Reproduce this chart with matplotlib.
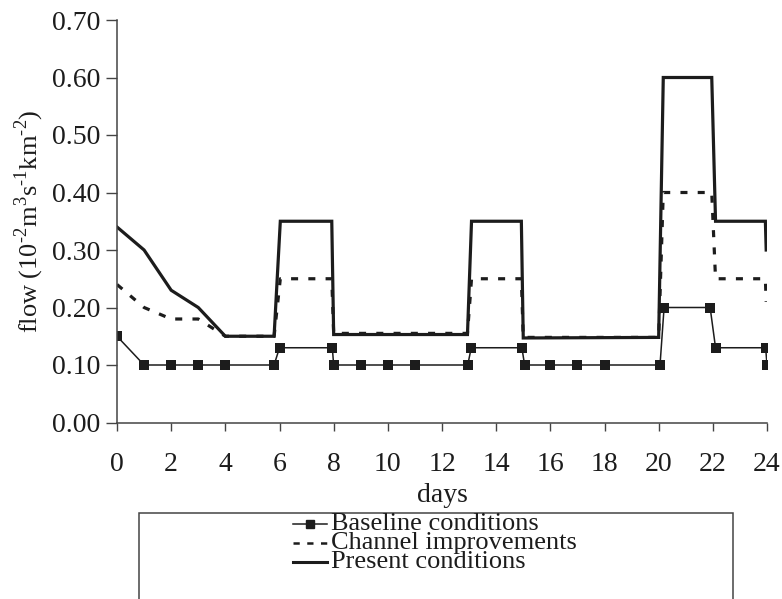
# Flow at the outlet under three scenarios (days 0-24)

import matplotlib
matplotlib.use("Agg")
import matplotlib.pyplot as plt
from matplotlib.lines import Line2D
from matplotlib.patches import Rectangle

plt.rcParams["font.family"] = ["Liberation Serif", "DejaVu Serif"]
plt.rcParams["mathtext.fontset"] = "custom"
plt.rcParams["mathtext.rm"] = "Liberation Serif"

# =============================================================================
# Data
# =============================================================================

baseline_days = [0, 1, 2, 3, 4, 5.8, 6, 7.95, 8, 9, 10, 11, 12.95, 13.08,
                 14.95, 15.05, 16, 17, 18, 20.05, 20.2, 21.9, 22.1, 23.95, 24]
baseline_flow = [0.15, 0.10, 0.10, 0.10, 0.10, 0.10, 0.13, 0.13, 0.10, 0.10,
                 0.10, 0.10, 0.10, 0.13, 0.13, 0.10, 0.10, 0.10, 0.10, 0.10,
                 0.20, 0.20, 0.13, 0.13, 0.10]

scenario_days = [0, 1, 2, 3, 4, 5.8, 6.03, 7.93, 8, 12.94, 13.09, 14.93, 15.0,
                 20.0, 20.17, 21.96, 22.1, 23.94, 23.97]
channel_flow = [0.24, 0.20, 0.18, 0.18, 0.15, 0.15, 0.25, 0.25, 0.155, 0.155,
                0.25, 0.25, 0.148, 0.148, 0.40, 0.40, 0.25, 0.25, 0.21]
present_flow = [0.34, 0.30, 0.23, 0.20, 0.15, 0.15, 0.35, 0.35, 0.153, 0.153,
                0.35, 0.35, 0.147, 0.148, 0.60, 0.60, 0.35, 0.35, 0.30]

series_labels = ["Baseline conditions", "Channel improvements", "Present conditions"]

x_ticks = list(range(0, 25, 2))
y_ticks = [0.0, 0.1, 0.2, 0.3, 0.4, 0.5, 0.6, 0.7]

# =============================================================================
# Plot
# =============================================================================

ink = "#1c1c1c"
fs = 20
W, H = 782, 599
fig = plt.figure(figsize=(W / 100, H / 100), dpi=100)
ax = fig.add_axes([117 / W, 1 - 422.5 / H, 650 / W, 402.5 / H])

ax.plot(scenario_days, present_flow, color=ink, lw=2.3, solid_joinstyle="miter")
ax.plot(scenario_days, channel_flow, color=ink, lw=2.3, dashes=(2.2, 3.2))
ax.plot(baseline_days, baseline_flow, color=ink, lw=1.1, marker="s",
        markersize=7, markeredgewidth=0)

ax.set_xlim(0, 24)
ax.set_ylim(0, 0.7)
ax.set_xticks(x_ticks)
ax.set_yticks(y_ticks)
ax.set_yticklabels([f"{v:.2f}" for v in y_ticks])
ax.tick_params(axis="both", direction="out", labelsize=fs, color="#444",
               width=1, colors=ink)
ax.tick_params(axis="x", length=6, pad=15)
ax.tick_params(axis="y", length=8, pad=4)
for side in ["top", "right"]:
    ax.spines[side].set_visible(False)
for side in ["left", "bottom"]:
    ax.spines[side].set_color("#444")
    ax.spines[side].set_linewidth(1.1)
ax.set_clip_on(False)

ax.set_xlabel("days", fontsize=fs, color=ink)
# hyphen (U+2010) in the superscripts, as in the original typesetting
ax.set_ylabel("flow (10$^{\u20102}$m$^{3}$s$^{\u20101}$km$^{\u20102}$)",
              fontsize=19, color=ink, va="center")
ax.xaxis.set_label_coords(0.5, -0.15)
ax.yaxis.set_label_coords(-(117 - 29) / 650, 0.5)

# legend box, cut off at the bottom of the figure like the original
fig.add_artist(Rectangle((139 / W, -0.05), (733 - 139) / W, 0.05 + 1 - 513 / H,
                         transform=fig.transFigure, fill=False,
                         edgecolor="#444", lw=1.1))
rows_y = [524, 543, 562]
h0, h1 = 293 / W, 327 / W
styles = [dict(lw=1.1, marker="s", markersize=6, markevery=[1]),
          dict(lw=1.8, dashes=(2.5, 3)),
          dict(lw=2.2)]
for y, label, st in zip(rows_y, series_labels, styles):
    yy = 1 - y / H
    fig.add_artist(Line2D([h0, (h0 + h1) / 2, h1], [yy, yy, yy],
                          transform=fig.transFigure, color=ink, **st))
    fig.text(331 / W, yy, label, fontsize=19, color=ink, va="center", ha="left")

fig.savefig("out.png", dpi=100)
